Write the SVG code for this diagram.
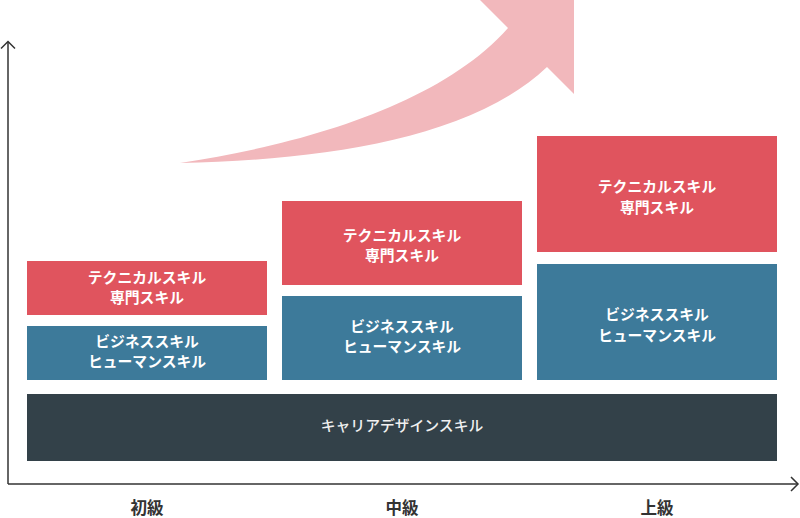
<svg xmlns="http://www.w3.org/2000/svg" width="800" height="518" viewBox="0 0 800 518">
<style>
.t{font-family:"Noto Sans CJK JP","Noto Sans",sans-serif;font-size:14.8px;font-weight:700;fill:#ffffff;text-anchor:middle}
.lbl{font-family:"Noto Sans CJK JP","Noto Sans",sans-serif;font-size:16.5px;font-weight:700;fill:#333333;text-anchor:middle}
.red{fill:#e0545e}
.blue{fill:#3d7a9a}
.dark{fill:#334149}
.ax{stroke:#333333;stroke-width:1.5;fill:none}
</style>
<rect width="800" height="518" fill="#ffffff"/>
<g id="growth-arrow">
<path d="M180,163 C300,145 440,105 508,28 L475,-5 L574,-5 L574,94 L547,67 C470,140 320,160 180,163 Z" fill="#f2b8bc"/>
</g>
<g id="connectors">
<line class="ax" x1="8" y1="42" x2="8" y2="484"/>
<polyline class="ax" points="1,48.5 8,41.5 15,48.5"/>
<line class="ax" x1="8" y1="484" x2="797" y2="484"/>
<polyline class="ax" points="791,477 798,484 791,491"/>
</g>
<g id="beginner-tech"><rect class="red" x="27" y="261" width="240" height="54"/><text class="t" x="147" y="283">テクニカルスキル</text><text class="t" x="147" y="303">専門スキル</text></g>
<g id="beginner-biz"><rect class="blue" x="27" y="326" width="240" height="54"/><text class="t" x="147" y="347">ビジネススキル</text><text class="t" x="147" y="367">ヒューマンスキル</text></g>
<g id="mid-tech"><rect class="red" x="282" y="201" width="240" height="84"/><text class="t" x="402" y="241">テクニカルスキル</text><text class="t" x="402" y="261">専門スキル</text></g>
<g id="mid-biz"><rect class="blue" x="282" y="296" width="240" height="84"/><text class="t" x="402" y="332">ビジネススキル</text><text class="t" x="402" y="352">ヒューマンスキル</text></g>
<g id="senior-tech"><rect class="red" x="537" y="136" width="240" height="116"/><text class="t" x="657" y="192">テクニカルスキル</text><text class="t" x="657" y="213">専門スキル</text></g>
<g id="senior-biz"><rect class="blue" x="537" y="264" width="240" height="116"/><text class="t" x="657" y="320">ビジネススキル</text><text class="t" x="657" y="341">ヒューマンスキル</text></g>
<g id="career-design"><rect class="dark" x="27" y="394" width="750" height="67"/><text class="t" x="402" y="431" style="font-weight:500;fill:#f0f0f0">キャリアデザインスキル</text></g>
<g id="label-beginner"><text class="lbl" x="147" y="514">初級</text></g>
<g id="label-mid"><text class="lbl" x="402" y="514">中級</text></g>
<g id="label-senior"><text class="lbl" x="657" y="514">上級</text></g>
</svg>
